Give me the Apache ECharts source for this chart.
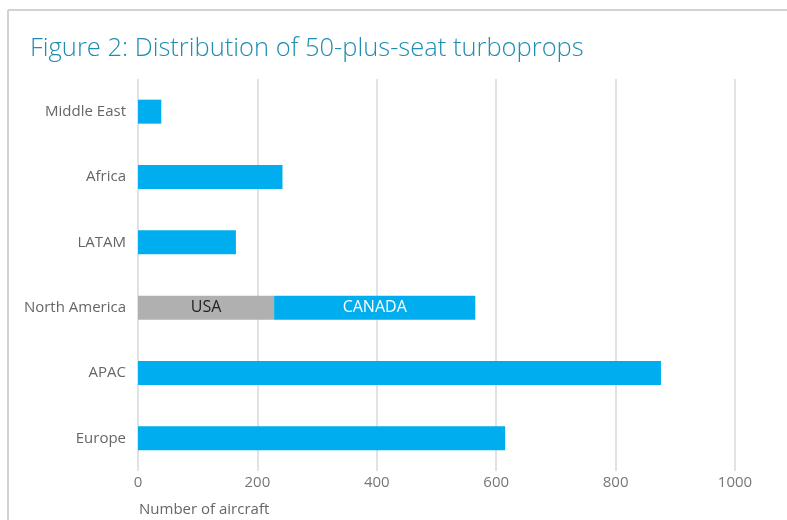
<!DOCTYPE html>
<html>
<head>
<meta charset="utf-8">
<script src="https://cdn.jsdelivr.net/npm/echarts@6/dist/echarts.min.js"></script>
<style>
  html, body { margin: 0; padding: 0; background: #ffffff; }
  #chart { width: 787px; height: 520px; }
</style>
</head>
<body>
<div id="chart"></div>
<script>
// Regions, listed bottom to top on the category axis
const regions = ['Europe', 'APAC', 'North America', 'LATAM', 'Africa', 'Middle East'];
// Fleet count per region (North America shows the Canada portion here)
const fleet = [615, 876, 337, 164, 242, 39];
// USA portion of North America, stacked first
const usa = [null, null, 228, null, null, null];
const xTicks = { min: 0, max: 1000, interval: 200 };

const FONT = '"Open Sans", sans-serif';
const chart = echarts.init(document.getElementById('chart'), null, { renderer: 'canvas' });

chart.setOption({
  animation: false,
  textStyle: { fontFamily: FONT },
  title: [
    {
      text: 'Figure 2: Distribution of 50-plus-seat turboprops',
      left: 30, top: 36, padding: 0,
      textStyle: { color: '#1e8db3', fontSize: 25.5, fontWeight: 300, fontFamily: FONT }
    },
    {
      text: 'Number of aircraft',
      left: 139, top: 502, padding: 0,
      textStyle: { color: '#666666', fontSize: 15, fontWeight: 400, fontFamily: FONT }
    }
  ],
  graphic: [
    { type: 'line', shape: { x1: 8, y1: 10, x2: 787, y2: 10 }, style: { stroke: '#d2d2d2', lineWidth: 2 } },
    { type: 'line', shape: { x1: 8, y1: 10, x2: 8, y2: 520 }, style: { stroke: '#d2d2d2', lineWidth: 2 } }
  ],
  grid: { left: 138, right: 52, top: 79, bottom: 49 },
  xAxis: {
    type: 'value',
    min: xTicks.min, max: xTicks.max, interval: xTicks.interval,
    axisLine: { show: false },
    axisTick: { show: false },
    axisLabel: {
      color: '#777777', fontSize: 15, margin: 4, fontFamily: FONT,
      formatter: function (v) { return String(v); }
    },
    splitLine: { show: true, lineStyle: { color: '#d8d8d8', width: 1.5 } }
  },
  yAxis: {
    type: 'category',
    data: regions,
    axisLine: { show: false },
    axisTick: { show: false },
    axisLabel: { color: '#666666', fontSize: 15, margin: 12, fontFamily: FONT }
  },
  series: [
    {
      name: 'USA',
      type: 'bar',
      stack: 'total',
      barWidth: 24,
      data: usa,
      itemStyle: { color: '#b0b0b0' },
      label: {
        show: true, position: 'inside', formatter: 'USA',
        color: '#222222', fontSize: 16, fontFamily: FONT
      }
    },
    {
      name: 'Aircraft',
      type: 'bar',
      stack: 'total',
      barWidth: 24,
      data: fleet,
      itemStyle: { color: '#00aeef' },
      label: {
        show: true, position: 'inside', color: '#ffffff', fontSize: 16, fontFamily: FONT,
        formatter: function (p) { return p.name === 'North America' ? 'CANADA' : ''; }
      }
    }
  ]
});
</script>
</body>
</html>
